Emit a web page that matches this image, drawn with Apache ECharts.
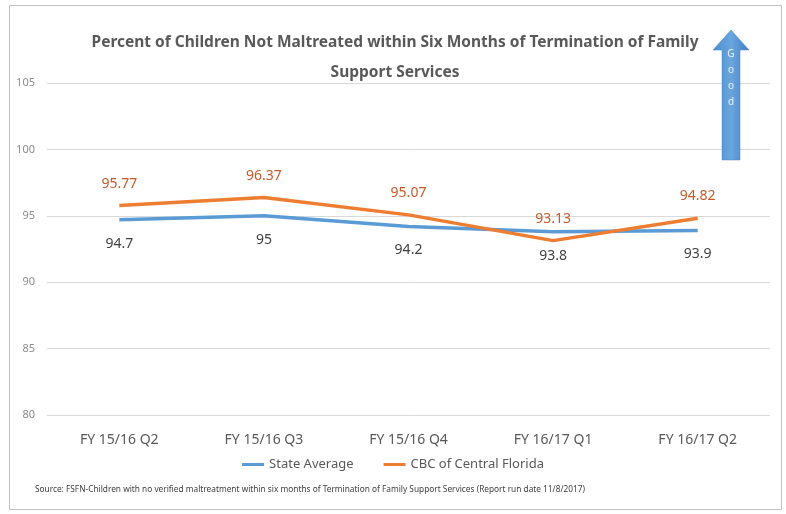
<!DOCTYPE html>
<html>
<head>
<meta charset="utf-8">
<script src="https://cdn.jsdelivr.net/npm/echarts@6/dist/echarts.min.js"></script>
<style>
  html, body { margin: 0; padding: 0; background: #fff; }
  #chart { width: 786px; height: 514px; }
</style>
</head>
<body>
<div id="chart"></div>
<script>
  // values
  var quarters = ['FY 15/16 Q2', 'FY 15/16 Q3', 'FY 15/16 Q4', 'FY 16/17 Q1', 'FY 16/17 Q2'];
  var stateAverage = [94.7, 95, 94.2, 93.8, 93.9];
  var cbcCentralFlorida = [95.77, 96.37, 95.07, 93.13, 94.82];
  var arrowLetters = ['G', 'o', 'o', 'd'];

  var font = "'Liberation Sans Narrow', 'Noto Sans', sans-serif";
  var chart = echarts.init(document.getElementById('chart'));

  chart.setOption({
    backgroundColor: '#fff',
    animation: false,
    title: {
      text: 'Percent of Children Not Maltreated within Six Months of Termination of Family\nSupport Services',
      left: 390,
      textAlign: 'center',
      top: 23,
      textStyle: {
        fontFamily: font,
        fontSize: 15.5,
        fontWeight: 'bold',
        color: '#595959',
        lineHeight: 30
      }
    },
    legend: {
      bottom: 38,
      left: 'center',
      itemWidth: 22,
      itemHeight: 3,
      itemGap: 30,
      icon: 'rect',
      textStyle: { fontFamily: font, fontSize: 13, color: '#595959' },
      data: ['State Average', 'CBC of Central Florida']
    },
    grid: { left: 47, right: 16, top: 83, bottom: 99 },
    xAxis: {
      type: 'category',
      data: quarters,
      boundaryGap: true,
      axisLine: { show: false },
      axisTick: { show: false },
      axisLabel: { fontFamily: font, fontSize: 14, color: '#595959', margin: 18 }
    },
    yAxis: {
      type: 'value',
      min: 80,
      max: 105,
      interval: 5,
      axisLine: { show: false },
      axisTick: { show: false },
      axisLabel: { fontFamily: font, fontSize: 11, color: '#8c8c8c', margin: 12 },
      splitLine: { lineStyle: { color: '#d9d9d9', width: 1 } }
    },
    series: [
      {
        name: 'State Average',
        type: 'line',
        data: stateAverage,
        showSymbol: true,
        symbol: 'circle',
        symbolSize: 0.1,
        lineStyle: { color: '#5B9BD5', width: 3.5 },
        itemStyle: { color: '#5B9BD5' },
        label: {
          show: true,
          position: 'bottom',
          distance: 17,
          fontFamily: font,
          fontSize: 14,
          color: '#404040'
        }
      },
      {
        name: 'CBC of Central Florida',
        type: 'line',
        data: cbcCentralFlorida,
        showSymbol: true,
        symbol: 'circle',
        symbolSize: 0.1,
        lineStyle: { color: '#ED7D31', width: 3.5 },
        itemStyle: { color: '#ED7D31' },
        label: {
          show: true,
          position: 'top',
          distance: 15,
          fontFamily: font,
          fontSize: 14,
          color: '#C65A28'
        }
      }
    ],
    graphic: [
      {
        type: 'rect',
        shape: { x: 9.5, y: 5.5, width: 772, height: 504 },
        style: { fill: 'none', stroke: '#bfbfbf', lineWidth: 1 },
        silent: true
      },
      {
        type: 'polygon',
        shape: {
          points: [[731, 30], [749, 50], [740, 50], [740, 160], [722, 160], [722, 50], [713, 50]]
        },
        style: {
          fill: new echarts.graphic.LinearGradient(0, 0, 1, 0, [
            { offset: 0, color: '#4a8bd0' },
            { offset: 0.5, color: '#6aa6de' },
            { offset: 1, color: '#3f7fc4' }
          ]),
          stroke: '#4f86c0',
          lineWidth: 0.5
        },
        z: 10
      },
      {
        type: 'text',
        x: 731,
        y: 46,
        style: {
          text: arrowLetters.join('\n'),
          align: 'center',
          fontFamily: font,
          fontSize: 10,
          lineHeight: 16,
          fill: '#eaf2fb'
        },
        z: 11
      },
      {
        type: 'text',
        x: 35,
        y: 486,
        style: {
          text: 'Source: FSFN-Children with no verified maltreatment within six months of Termination of Family Support Services (Report run date 11/8/2017)',
          fontFamily: font,
          fontSize: 8.3,
          fill: '#404040'
        }
      }
    ]
  });
</script>
</body>
</html>
